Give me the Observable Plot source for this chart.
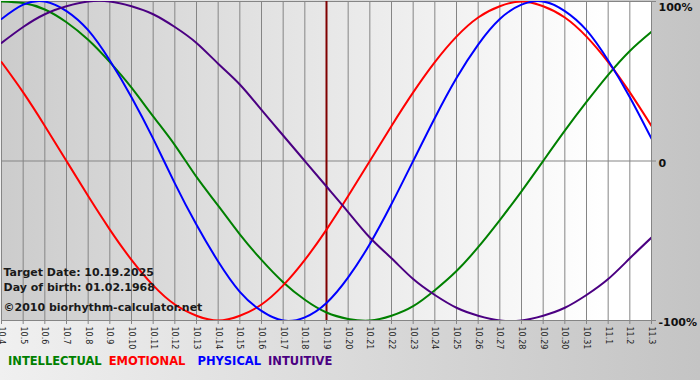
<!DOCTYPE html>
<html><head><meta charset="utf-8">
<script src="https://cdn.jsdelivr.net/npm/d3@7"></script>
<script src="https://cdn.jsdelivr.net/npm/@observablehq/plot@0.6"></script>
<style>
html,body{margin:0;padding:0;}
body{width:700px;height:380px;overflow:hidden;position:relative;background:linear-gradient(to right,#f0f0f0,#c4c4c4);font-family:"DejaVu Sans",Verdana,sans-serif;}
#chart{position:absolute;left:0;top:0;}
#legend{position:absolute;left:8px;top:355px;font-weight:bold;font-size:11.5px;line-height:13px;white-space:nowrap;}
#legend span{display:inline-block;}
</style></head><body>
<div id="chart"></div>
<div id="legend"></div>
<script>
const days = ["10.4","10.5","10.6","10.7","10.8","10.9","10.10","10.11","10.12","10.13","10.14","10.15","10.16","10.17","10.18","10.19","10.20","10.21","10.22","10.23","10.24","10.25","10.26","10.27","10.28","10.29","10.30","10.31","11.1","11.2","11.3"];
const intellectual = [1.00,0.99,0.95,0.87,0.76,0.62,0.46,0.28,0.10,-0.10,-0.28,-0.46,-0.62,-0.76,-0.87,-0.95,-0.99,-1.00,-0.97,-0.91,-0.81,-0.69,-0.54,-0.37,-0.19,0.00,0.19,0.37,0.54,0.69,0.81];
const emotional = [0.62,0.43,0.22,0.00,-0.22,-0.43,-0.62,-0.78,-0.90,-0.97,-1.00,-0.97,-0.90,-0.78,-0.62,-0.43,-0.22,0.00,0.22,0.43,0.62,0.78,0.90,0.97,1.00,0.97,0.90,0.78,0.62,0.43,0.22];
const physical = [0.89,0.98,1.00,0.94,0.82,0.63,0.40,0.14,-0.14,-0.40,-0.63,-0.82,-0.94,-1.00,-0.98,-0.89,-0.73,-0.52,-0.27,0.00,0.27,0.52,0.73,0.89,0.98,1.00,0.94,0.82,0.63,0.40,0.14];
const intuitive = [0.74,0.84,0.92,0.97,1.00,1.00,0.97,0.92,0.84,0.74,0.61,0.48,0.32,0.16,0.00,-0.16,-0.32,-0.48,-0.61,-0.74,-0.84,-0.92,-0.97,-1.00,-1.00,-0.97,-0.92,-0.84,-0.74,-0.61,-0.48];
const seriesNames = ["INTELLECTUAL","EMOTIONAL","PHYSICAL","INTUITIVE"];
const seriesColors = ["#008000","#ff0000","#0000ff","#4b0082"];
const yTicks = [1, 0, -1];
const yTickLabels = ["100%", "0", "-100%"];
const targetDay = "10.19";
const infoLines = ["Target Date: 10.19.2025", "Day of birth: 01.02.1968", "©2010 biorhythm-calculator.net"];

const seriesValues = [intellectual, emotional, physical, intuitive];
const data = [];
seriesNames.forEach((s, k) => seriesValues[k].forEach((v, i) => data.push({i, v, series: s})));
const idx = days.map((d, i) => i);
const targetIndex = days.indexOf(targetDay);
const ylab = v => yTickLabels[yTicks.indexOf(v)];

const svg = Plot.plot({
  width: 700, height: 346,
  marginLeft: 1, marginRight: 49, marginTop: 1, marginBottom: 26,
  style: {fontFamily: "DejaVu Sans, Verdana, sans-serif", background: "transparent", overflow: "visible"},
  x: {domain: [0, days.length - 1]},
  y: {domain: [-1, 1]},
  color: {domain: seriesNames, range: seriesColors},
  marks: [
    Plot.frame({fill: "url(#plotbg)", stroke: "none"}),
    Plot.ruleX(idx, {stroke: "#858585", strokeWidth: 1}),
    Plot.ruleY(yTicks, {stroke: "#858585", strokeWidth: 1}),
    Plot.axisX(idx, {label: null, tickFormat: i => days[i], tickRotate: 90, tickSize: 4, tickPadding: 2, fontSize: 8, stroke: "#858585", fill: "#222"}),
    Plot.axisY(yTicks, {label: null, anchor: "right", tickSize: 4, tickFormat: () => "", stroke: "#858585"}),
    Plot.text(yTicks.filter(v => v === 1), {x: days.length - 1, y: d => d, text: ylab, dx: 7, dy: 6, textAnchor: "start", fontWeight: "bold", fontSize: 11, fill: "#111"}),
    Plot.text(yTicks.filter(v => v !== 1), {x: days.length - 1, y: d => d, text: ylab, dx: 7, dy: 2, textAnchor: "start", fontWeight: "bold", fontSize: 11, fill: "#111"}),
    Plot.ruleX([targetIndex], {stroke: "#800000", strokeWidth: 2}),
    Plot.line(data, {x: "i", y: "v", z: "series", stroke: "series", strokeWidth: 2, curve: "natural", clip: true}),
    Plot.text([infoLines[0]], {frameAnchor: "bottom-left", text: d => d, dx: 2, dy: -45, lineAnchor: "bottom", textAnchor: "start", fontWeight: "bold", fontSize: 11, fill: "#1a1a1a"}),
    Plot.text([infoLines[1]], {frameAnchor: "bottom-left", text: d => d, dx: 2, dy: -30, lineAnchor: "bottom", textAnchor: "start", fontWeight: "bold", fontSize: 11, fill: "#1a1a1a"}),
    Plot.text([infoLines[2]], {frameAnchor: "bottom-left", text: d => d, dx: 2, dy: -10, lineAnchor: "bottom", textAnchor: "start", fontWeight: "bold", fontSize: 11, fill: "#1a1a1a"})
  ]
});
const grad = d3.select(svg).insert("defs", ":first-child").append("linearGradient").attr("id", "plotbg").attr("x1", 0).attr("x2", 1).attr("y1", 0).attr("y2", 0);
grad.append("stop").attr("offset", 0).attr("stop-color", "#cccccc");
grad.append("stop").attr("offset", 0.93).attr("stop-color", "#ffffff");
grad.append("stop").attr("offset", 1).attr("stop-color", "#ffffff");
document.getElementById("chart").appendChild(svg);

const legend = document.getElementById("legend");
const gaps = [7, 12, 7, 0];
seriesNames.forEach((s, k) => {
  const sp = document.createElement("span");
  sp.textContent = s;
  sp.style.color = seriesColors[k];
  sp.style.marginRight = gaps[k] + "px";
  legend.appendChild(sp);
});
</script>
</body></html>
